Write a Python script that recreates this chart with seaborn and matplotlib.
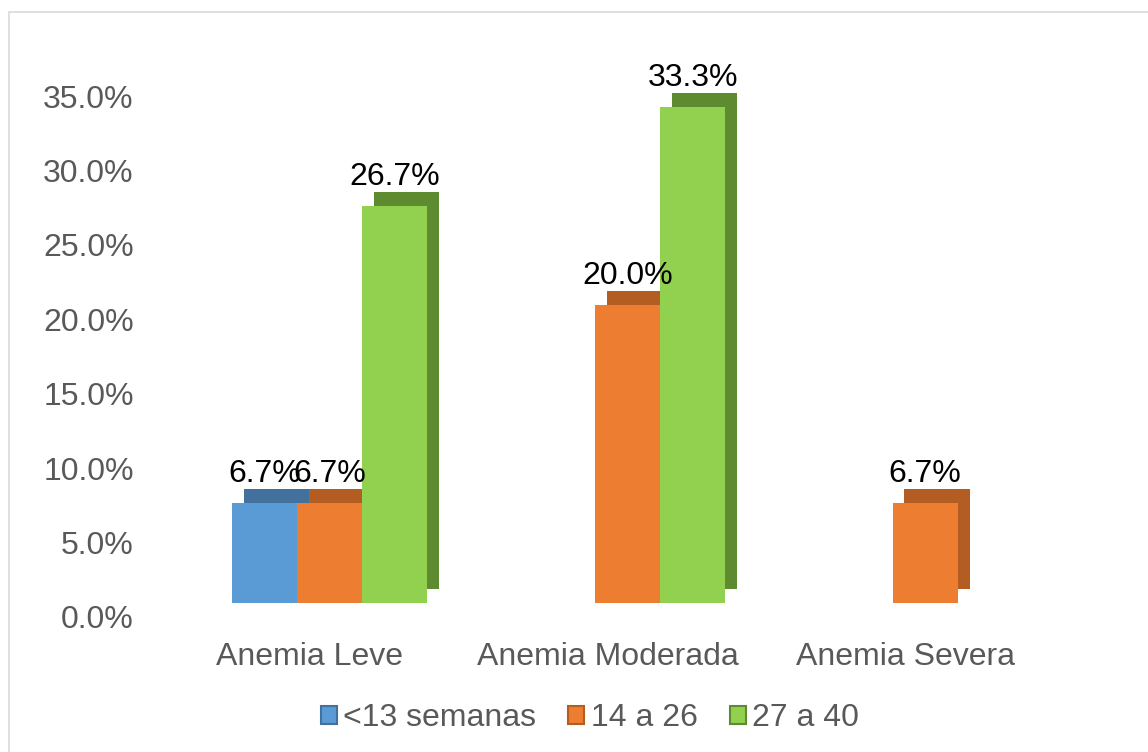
import numpy as np
import pandas as pd
import matplotlib
matplotlib.use("Agg")
import matplotlib.pyplot as plt
import matplotlib.patheffects as pe
import matplotlib.transforms as mtransforms
from matplotlib.patches import Rectangle
from matplotlib.ticker import PercentFormatter
import seaborn as sns

sns.set_style("white")
plt.rcParams["font.family"] = ["Liberation Sans", "DejaVu Sans"]

# ---------------------------------
# DATA
# ---------------------------------

categories = ["Anemia Leve", "Anemia Moderada", "Anemia Severa"]
series = ["<13 semanas", "14 a 26", "27 a 40"]
menor_13 = [6.7, 0.0, 0.0]
de_14_a_26 = [6.7, 20.0, 6.7]
de_27_a_40 = [26.7, 33.3, 0.0]
y_ticks = [0, 5, 10, 15, 20, 25, 30, 35]

colors = ["#5B9BD5", "#ED7D31", "#92D050"]
side_colors = ["#41719C", "#B35D22", "#5F8B30"]

rows = []
for name, vals in zip(series, [menor_13, de_14_a_26, de_27_a_40]):
    for cat, v in zip(categories, vals):
        rows.append({"Categoria": cat, "Grupo": name, "Valor": v})
df = pd.DataFrame(rows)

# ---------------------------------
# FIGURE
# ---------------------------------

fig = plt.figure(figsize=(11.48, 7.52), dpi=100)
ax = fig.add_axes([181 / 1148, 149 / 752, (1074 - 181) / 1148, 521 / 752])

sns.barplot(
    data=df, x="Categoria", y="Valor", hue="Grupo",
    order=categories, hue_order=series, palette=colors, saturation=1,
    width=0.656, linewidth=0, ax=ax, legend=False,
)

# fake 3D depth with a dark offset shadow
for cont, side in zip(ax.containers, side_colors):
    for bar in cont:
        bar.set_path_effects([
            pe.SimplePatchShadow(offset=(8.5, 10), shadow_rgbFace=side, alpha=1.0),
            pe.Normal(),
        ])
    labels = [f"{b.get_height():.1f}%" if b.get_height() > 0 else "" for b in cont]
    ax.bar_label(cont, labels=labels, padding=10, fontsize=23, color="black")

ax.set_ylim(0, 35)
ax.set_xlim(-0.5, 2.5)
ax.set_yticks(y_ticks)
ax.yaxis.set_major_formatter(PercentFormatter(decimals=1))
ax.tick_params(axis="y", length=0, pad=34, labelsize=23, labelcolor="#595959")
ax.tick_params(axis="x", length=0, pad=28, labelsize=23, labelcolor="#595959")
ax.set_xlabel("")
ax.set_ylabel("")
for s in ax.spines.values():
    s.set_visible(False)

# tick labels offset like the 3D perspective of the original
shift_y = mtransforms.ScaledTranslation(0, -0.14, fig.dpi_scale_trans)
for lab in ax.get_yticklabels():
    lab.set_transform(lab.get_transform() + shift_y)
shift_x = mtransforms.ScaledTranslation(-0.2, 0, fig.dpi_scale_trans)
for lab in ax.get_xticklabels():
    lab.set_transform(lab.get_transform() + shift_x)

# legend
handles = [Rectangle((0, 0), 1, 1, facecolor=c, edgecolor=s, linewidth=1.5)
           for c, s in zip(colors, side_colors)]
fig.legend(
    handles, series, loc="center", bbox_to_anchor=(590 / 1148, 1 - 718 / 752),
    ncol=3, frameon=False, fontsize=23, labelcolor="#595959",
    handlelength=0.5, handleheight=0.5, handletextpad=0.2, columnspacing=1.0,
)

# outer chart border
fig.patches.append(Rectangle((9 / 1148, -0.1), 1.2, 1.1 - 12 / 752, fill=False,
                             edgecolor="#D9D9D9", linewidth=1.2,
                             transform=fig.transFigure, zorder=0))

fig.savefig("out.png", dpi=100)
